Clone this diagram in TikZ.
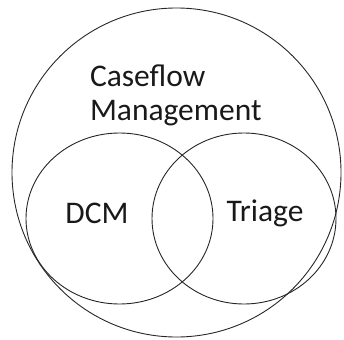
\documentclass[tikz,border=0pt]{standalone}
\usepackage{fontspec}
\setmainfont{Carlito}
\usetikzlibrary{shapes.geometric}

\begin{document}
\begin{tikzpicture}[x=1pt,y=-1pt,
    every node/.style={inner sep=0pt, outer sep=0pt},
    set/.style={draw=black!85, line width=0.9pt, ellipse},
    lbl/.style={text=black!90, font=\fontsize{31.5}{33}\selectfont}]
              \useasboundingbox (0,0) rectangle (344,339);
              % Mengen
              \node[set, minimum width=329pt, minimum height=329pt] (cfm) at (176.5,172.5) {};
              \node[set, minimum width=187pt, minimum height=171pt] (dcm) at (119.5,218.5) {};
              \node[set, minimum width=184pt, minimum height=171pt] (tri) at (244,218.5) {};

              % Beschriftungen
              \node[lbl, anchor=base west] (cfm1) at (90,87) {Caseflow};
              \node[lbl, anchor=base west] (cfm2) at (90,120) {Management};
              \node[lbl, anchor=base] (dcmtext) at (97,223) {DCM};
              \node[lbl, anchor=base] (tritext) at (265,221) {Triage};
            \end{tikzpicture}
\end{document}
